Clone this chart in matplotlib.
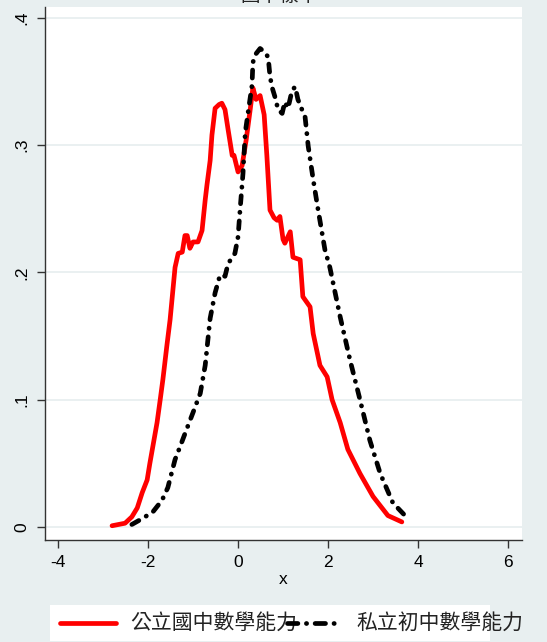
import matplotlib
matplotlib.use("Agg")
import matplotlib.pyplot as plt
from matplotlib.lines import Line2D
from matplotlib.patches import Rectangle

plt.rcParams['font.family'] = ['Liberation Sans', 'DejaVu Sans']

title = "國中樣本"
xlabel = "x"
legend_labels = ["公立國中數學能力", "私立初中數學能力"]
xticks = [-4, -2, 0, 2, 4, 6]
yticks = [0, 0.1, 0.2, 0.3, 0.4]
yticklabels = ["0", ".1", ".2", ".3", ".4"]

public_x = [-2.80, -2.51, -2.36, -2.24, -2.13, -2.02, -1.96, -1.89, -1.80, -1.73,
            -1.67, -1.58, -1.51, -1.40, -1.33, -1.24, -1.18, -1.13, -1.07, -1.00,
            -0.89, -0.80, -0.73, -0.69, -0.62, -0.58, -0.51, -0.42, -0.36, -0.29,
            -0.22, -0.13, -0.09, 0.00, 0.09, 0.18, 0.27, 0.33, 0.40, 0.49,
            0.58, 0.64, 0.71, 0.80, 0.87, 0.93, 1.00, 1.04, 1.16, 1.22,
            1.38, 1.44, 1.60, 1.67, 1.82, 1.98, 2.09, 2.27, 2.44, 2.71,
            3.00, 3.33, 3.64]
public_y = [0.001, 0.003, 0.008, 0.015, 0.027, 0.037, 0.050, 0.064, 0.082, 0.100,
            0.116, 0.143, 0.163, 0.204, 0.215, 0.216, 0.229, 0.229, 0.219, 0.224,
            0.224, 0.233, 0.257, 0.269, 0.288, 0.308, 0.329, 0.332, 0.333, 0.328,
            0.312, 0.292, 0.292, 0.279, 0.284, 0.304, 0.328, 0.345, 0.336, 0.339,
            0.324, 0.292, 0.249, 0.243, 0.241, 0.244, 0.226, 0.223, 0.232, 0.212,
            0.210, 0.181, 0.173, 0.152, 0.127, 0.118, 0.100, 0.082, 0.061, 0.042,
            0.024, 0.009, 0.004]

private_x = [-2.36, -2.11, -1.89, -1.69, -1.56, -1.40, -1.29, -1.13, -1.00, -0.84,
             -0.73, -0.62, -0.51, -0.40, -0.29, -0.22, -0.07, 0.00, 0.04, 0.11,
             0.16, 0.22, 0.31, 0.33, 0.38, 0.49, 0.60, 0.67, 0.71, 0.76,
             0.82, 0.89, 0.98, 1.04, 1.11, 1.20, 1.27, 1.33, 1.42, 1.49,
             1.56, 1.67, 1.78, 1.93, 2.04, 2.27, 2.49, 2.71, 2.93, 3.16,
             3.44, 3.71]
private_y = [0.002, 0.007, 0.012, 0.021, 0.031, 0.053, 0.063, 0.078, 0.090, 0.105,
             0.127, 0.164, 0.184, 0.198, 0.197, 0.207, 0.215, 0.228, 0.247, 0.278,
             0.310, 0.325, 0.347, 0.365, 0.371, 0.376, 0.373, 0.369, 0.354, 0.345,
             0.338, 0.328, 0.325, 0.334, 0.329, 0.343, 0.346, 0.336, 0.328, 0.322,
             0.299, 0.273, 0.249, 0.218, 0.204, 0.165, 0.131, 0.100, 0.068, 0.042,
             0.019, 0.009]

W, H = 547, 642
bg = "#e8eff0"
fig = plt.figure(figsize=(W / 100, H / 100), dpi=100, facecolor=bg)
ax = fig.add_axes([45 / W, (H - 540) / H, (522 - 45) / W, (540 - 7) / H])
ax.set_facecolor("white")

for yt in yticks:
    ax.axhline(yt, color="#e6eeef", lw=1.2, zorder=0)

lw = 3.4
ax.plot(public_x, public_y, color="#ff0000", lw=lw, solid_capstyle="round",
        solid_joinstyle="round", zorder=3)
dash = (1.7, 1.8, 0.05, 1.8)
ax.plot(private_x, private_y, color="black", lw=lw, dashes=dash,
        dash_capstyle="round", solid_joinstyle="round", zorder=4)

ax.set_xlim(-4.29, 6.31)
ax.set_ylim(-0.0102, 0.4086)
ax.set_xticks(xticks)
ax.set_xticklabels([str(t) for t in xticks], fontsize=12.5)
ax.set_yticks(yticks)
ax.set_yticklabels(yticklabels, fontsize=12.5, rotation=90, va="center")
ax.tick_params(axis="both", length=6, width=1, color="#333333", pad=5)
for s in ["top", "right"]:
    ax.spines[s].set_visible(False)
for s in ["left", "bottom"]:
    ax.spines[s].set_color("#333333")
    ax.spines[s].set_linewidth(1)
ax.set_xlabel(xlabel, fontsize=12.5, labelpad=1)

fig.text(279 / W, 1 - 6 / H, title, ha="center", va="bottom", fontsize=14,
         family=["Noto Sans CJK TC", "DejaVu Sans"], color="#222222")

def fx(px):
    return px / W

def fy(py):
    return 1 - py / H

fig.patches.append(Rectangle((fx(50), fy(641)), fx(490) - fx(50), fy(605) - fy(641),
                             transform=fig.transFigure, facecolor="white",
                             edgecolor="none", zorder=1))
ly = fy(623)
fig.lines.append(Line2D([fx(60), fx(116)], [ly, ly], transform=fig.transFigure,
                        color="#ff0000", lw=lw, solid_capstyle="round", zorder=2))
fig.text(fx(130), ly, legend_labels[0], ha="left", va="center", fontsize=15,
         family=["Noto Sans CJK TC", "DejaVu Sans"], color="#222222", zorder=2)
fig.lines.append(Line2D([fx(287), fx(342)], [ly, ly], transform=fig.transFigure,
                        color="black", lw=lw, dashes=(2.2, 1.8, 0.05, 1.8),
                        dash_capstyle="round", zorder=3))
fig.text(fx(356), ly, legend_labels[1], ha="left", va="center", fontsize=15,
         family=["Noto Sans CJK TC", "DejaVu Sans"], color="#222222", zorder=2)

fig.savefig("out.png", dpi=100, facecolor=bg)
